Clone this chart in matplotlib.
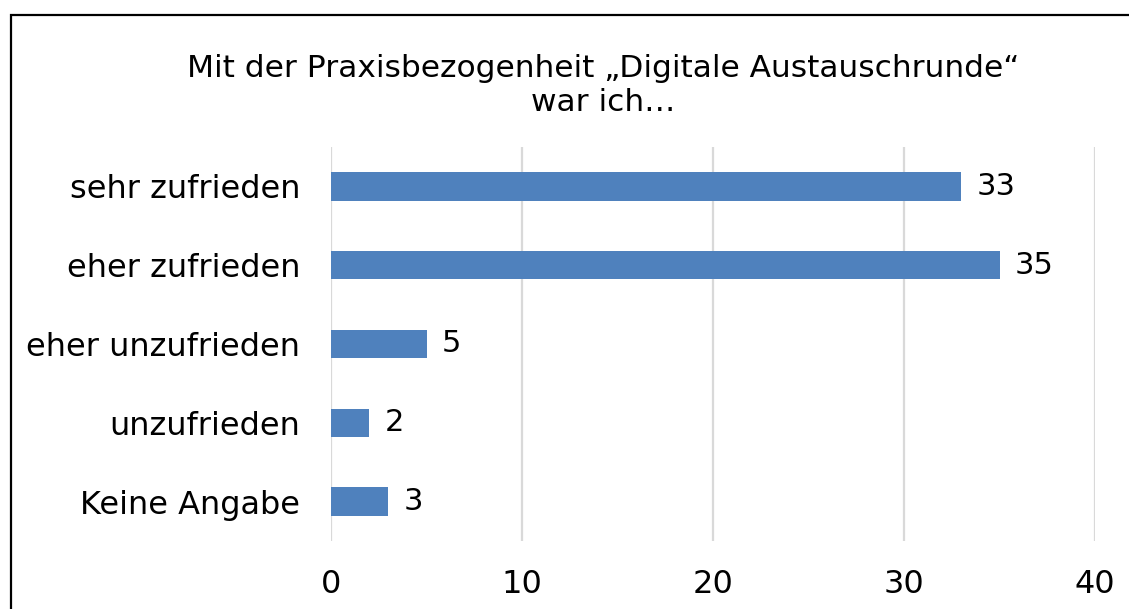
import matplotlib.pyplot as plt
from matplotlib.patches import Rectangle

# data
categories = ['sehr zufrieden', 'eher zufrieden', 'eher unzufrieden', 'unzufrieden', 'Keine Angabe']
counts = [33, 35, 5, 2, 3]
title = 'Mit der Praxisbezogenheit \u201eDigitale Austauschrunde\u201c\nwar ich\u2026'

plt.rcParams['font.family'] = ['DejaVu Sans']

fig = plt.figure(figsize=(11.29, 6.09), dpi=100)
ax = fig.add_axes([0.2932, 0.1117, 0.6767, 0.6469])

y = list(range(len(categories)))
bars = ax.barh(y, counts, height=0.36, color='#4F81BD', zorder=3)
ax.set_yticks(y)
ax.set_yticklabels(categories, fontsize=23)
ax.invert_yaxis()
ax.set_ylim(len(categories) - 0.5, -0.5)

ax.set_xlim(0, 40)
ax.set_xticks([0, 10, 20, 30, 40])
ax.tick_params(axis='x', length=0, pad=20, labelsize=23)
ax.tick_params(axis='y', length=0, pad=22)
ax.grid(axis='x', color='#D9D9D9', linewidth=1.6, zorder=0)
for s in ax.spines.values():
    s.set_visible(False)

# value labels next to each bar
for yi, v in zip(y, counts):
    ax.annotate(str(v), (v, yi), xytext=(11, 0), textcoords='offset points',
                va='center', ha='left', fontsize=22)

fig.text(0.534, 0.86, title, ha='center', va='center', fontsize=22.5, linespacing=1.2)

# outer frame, cut at right and bottom edge like the screenshot
fig.patches.append(Rectangle((10.5 / 1129, -0.1), 1.2, 1 - 14.5 / 609 + 0.1,
                             transform=fig.transFigure, fill=False,
                             edgecolor='black', linewidth=1.6))

fig.savefig('out.png', dpi=100)
